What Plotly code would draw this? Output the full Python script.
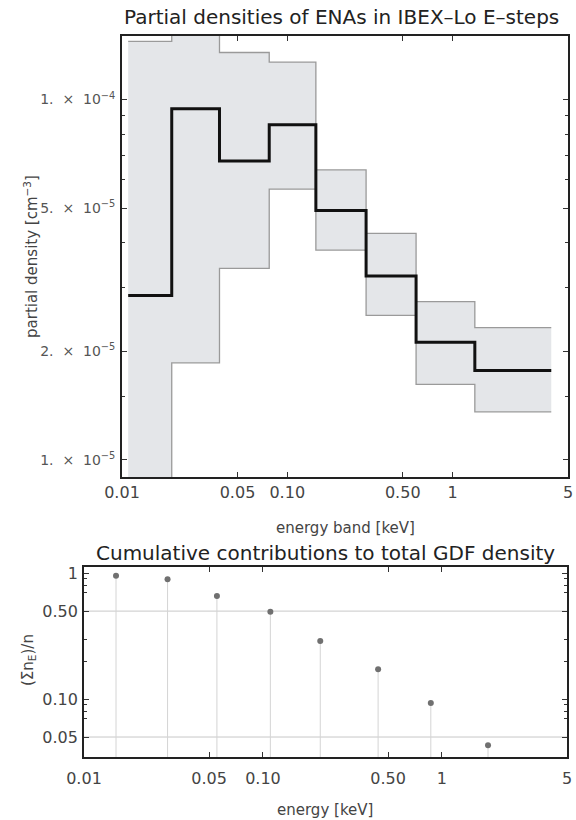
import math
import plotly.graph_objects as go

# ---------------- data ----------------
# top panel: energy-step bins (keV) and partial densities (cm^-3)
EDGES = [0.0109, 0.0200, 0.0389, 0.0778, 0.149, 0.300, 0.602, 1.365, 3.96]
MEAN = [2.86e-5, 9.42e-5, 6.75e-5, 8.51e-5, 4.92e-5, 3.24e-5, 2.12e-5, 1.77e-5]
UPPER = [1.45e-4, 2.2e-4, 1.35e-4, 1.27e-4, 6.38e-5, 4.25e-5, 2.75e-5, 2.33e-5]
LOWER = [6.0e-6, 1.86e-5, 3.40e-5, 5.64e-5, 3.82e-5, 2.52e-5, 1.62e-5, 1.36e-5]

# bottom panel: cumulative contributions
CENTERS = [0.0151, 0.0293, 0.0553, 0.110, 0.209, 0.440, 0.867, 1.81]
CUMUL = [0.955, 0.894, 0.659, 0.494, 0.289, 0.173, 0.0933, 0.0430]

X_TICKS = [0.01, 0.05, 0.1, 0.5, 1, 5]
X_TICKTEXT = ["0.01", "0.05", "0.10", "0.50", "1", "5"]
Y1_TICKS = [1e-5, 2e-5, 5e-5, 1e-4]
SP = "\u00a0\u00a0"
Y1_TICKTEXT = [f"1.{SP}\u00d7{SP}10<sup>\u22125</sup>", f"2.{SP}\u00d7{SP}10<sup>\u22125</sup>",
               f"5.{SP}\u00d7{SP}10<sup>\u22125</sup>", f"1.{SP}\u00d7{SP}10<sup>\u22124</sup>"]
Y1_MINOR = [1.5e-5, 3e-5, 4e-5, 6e-5, 7e-5, 8e-5, 9e-5]
Y2_TICKS = [0.05, 0.1, 0.5, 1]
Y2_TICKTEXT = ["0.05", "0.10", "0.50", "1"]
Y2_MINOR = [0.07, 0.08, 0.09, 0.2, 0.3, 0.7, 0.8, 0.9]
Y2_GRID = [0.05, 0.5]

X_RANGE = [0.01, 5]
Y1_RANGE = [8.97e-6, 1.50e-4]
Y2_RANGE = [0.0347, 1.12]

W, H = 576, 820


def px_x(p):
    return p / W


def px_y(p):
    return 1 - p / H


def steps(edges, vals):
    xs, ys = [], []
    for i, v in enumerate(vals):
        xs += [edges[i], edges[i + 1]]
        ys += [v, v]
    return xs, ys


ux, uy = steps(EDGES, UPPER)
lx, ly = steps(EDGES, LOWER)
mx, my = steps(EDGES, MEAN)

fig = go.Figure()

fill_color = "#e4e6e9"
bound_color = "#9a9a9a"

fig.add_trace(go.Scatter(x=ux + lx[::-1], y=uy + ly[::-1], fill="toself",
                         fillcolor=fill_color, line=dict(width=0), mode="lines",
                         hoverinfo="skip", xaxis="x", yaxis="y"))
fig.add_trace(go.Scatter(x=ux, y=uy, mode="lines", line=dict(color=bound_color, width=1.3),
                         xaxis="x", yaxis="y"))
fig.add_trace(go.Scatter(x=lx, y=ly, mode="lines", line=dict(color=bound_color, width=1.3),
                         xaxis="x", yaxis="y"))
fig.add_trace(go.Scatter(x=mx, y=my, mode="lines", line=dict(color="#111111", width=3),
                         xaxis="x", yaxis="y"))

# bottom panel stems + points
stem_x, stem_y = [], []
for c, v in zip(CENTERS, CUMUL):
    stem_x += [c, c, None]
    stem_y += [v, Y2_RANGE[0], None]
fig.add_trace(go.Scatter(x=stem_x, y=stem_y, mode="lines",
                         line=dict(color="#d4d4d4", width=1), xaxis="x2", yaxis="y2"))
fig.add_trace(go.Scatter(x=CENTERS, y=CUMUL, mode="markers",
                         marker=dict(color="#707070", size=6), xaxis="x2", yaxis="y2"))

tick_font = dict(family="DejaVu Sans", size=16, color="#444444")
frame = dict(showline=True, linecolor="#222222", linewidth=1.8, mirror="ticks",
             ticks="inside", tickcolor="#333333", showgrid=False, zeroline=False,
             automargin=False)

fig.update_layout(
    template="none",
    width=W, height=H, margin=dict(l=0, r=0, t=0, b=0, pad=0),
    paper_bgcolor="white", plot_bgcolor="white", showlegend=False,
    xaxis=dict(domain=[px_x(122), px_x(568)], anchor="y", type="log",
               range=[math.log10(X_RANGE[0]), math.log10(X_RANGE[1])],
               tickmode="array", tickvals=X_TICKS, ticktext=X_TICKTEXT,
               ticklen=5, tickwidth=1.2, tickfont=tick_font, ticklabelstandoff=0, **frame),
    yaxis=dict(domain=[px_y(477), px_y(36)], anchor="x", type="log",
               range=[math.log10(Y1_RANGE[0]), math.log10(Y1_RANGE[1])],
               tickmode="array", tickvals=Y1_TICKS, ticktext=Y1_TICKTEXT,
               ticklen=5, tickwidth=1.2,
               tickfont=dict(family="DejaVu Sans", size=14, color="#555555"),
               ticklabelstandoff=2,
               minor=dict(tickmode="array", tickvals=Y1_MINOR, ticks="inside",
                          ticklen=3, tickcolor="#333333", tickwidth=1, showgrid=False),
               **frame),
    xaxis2=dict(domain=[px_x(84), px_x(567)], anchor="y2", type="log",
                range=[math.log10(X_RANGE[0]), math.log10(X_RANGE[1])],
                tickmode="array", tickvals=X_TICKS, ticktext=X_TICKTEXT,
                ticklen=5, tickwidth=1.2, tickfont=tick_font, ticklabelstandoff=6, **frame),
    yaxis2=dict(domain=[px_y(757), px_y(567)], anchor="x2", type="log",
                range=[math.log10(Y2_RANGE[0]), math.log10(Y2_RANGE[1])],
                tickmode="array", tickvals=Y2_TICKS, ticktext=Y2_TICKTEXT,
                ticklen=5, tickwidth=1.2, tickfont=tick_font, ticklabelstandoff=1,
                minor=dict(tickmode="array", tickvals=Y2_MINOR, ticks="inside",
                           ticklen=3, tickcolor="#333333", tickwidth=1, showgrid=False),
                **frame),
)

for g in Y2_GRID:
    fig.add_shape(type="line", xref="x2 domain", yref="y2", x0=0, x1=1, y0=g, y1=g,
                  line=dict(color="#c8c8c8", width=1), layer="below")

title_font = dict(family="DejaVu Sans", size=20, color="#222222")
label_font = dict(family="DejaVu Sans", size=15, color="#444444")

annotations = [
    dict(text="Partial densities of ENAs in IBEX\u2013Lo E\u2013steps", x=px_x(341), y=px_y(17),
         font=title_font),
    dict(text="energy band [keV]", x=px_x(345), y=px_y(528), font=label_font),
    dict(text="partial density [cm<sup>\u22123</sup>]", x=px_x(31), y=px_y(257),
         font=label_font, textangle=-90),
    dict(text="Cumulative contributions to total GDF density", x=px_x(325), y=px_y(553),
         font=title_font),
    dict(text="energy [keV]", x=px_x(325), y=px_y(810), font=label_font),
    dict(text="(\u03a3n<sub>E</sub>)/n", x=px_x(28), y=px_y(660), font=label_font,
         textangle=-90),
]
for a in annotations:
    fig.add_annotation(xref="paper", yref="paper", showarrow=False,
                       xanchor="center", yanchor="middle", **a)

fig.write_html("out.html")
